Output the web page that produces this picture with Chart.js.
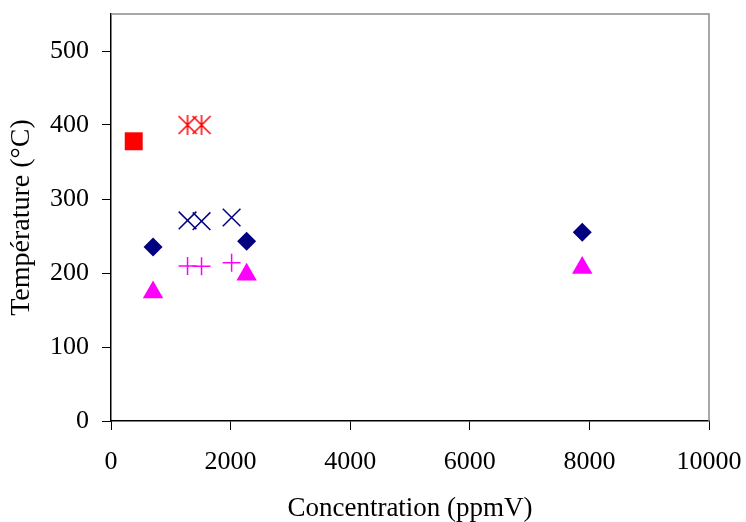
<!DOCTYPE html>
<html>
<head>
<meta charset="utf-8">
<script src="https://cdn.jsdelivr.net/npm/chart.js@4/dist/chart.umd.min.js"></script>
<style>
  body { margin: 0; background: #fff; }
</style>
</head>
<body>
<canvas id="chart" width="746" height="522"></canvas>
<script>
// Data (x = ppmV, y = °C)
const diamondX = [703, 2268, 7880];
const diamondY = [235, 243, 255];
const triangleX = [703, 2268, 7880];
const triangleY = [174, 198, 207];
const squareX = [380];
const squareY = [378];
const starX = [1280, 1514];
const starY = [400, 400];
const crossX = [1280, 1514, 2017];
const crossY = [271, 270, 275];
const plusX = [1280, 1514, 2017];
const plusY = [209.5, 209, 214];

const xTicks = [0, 2000, 4000, 6000, 8000, 10000];
const yTicks = [0, 100, 200, 300, 400, 500];

const pts = (xs, ys) => xs.map((x, i) => ({ x: x, y: ys[i] }));

// Excel style "star" marker: an X with a vertical bar
function starMarker(color) {
  const c = document.createElement("canvas");
  c.width = 20; c.height = 20;
  const g = c.getContext("2d");
  g.strokeStyle = color;
  g.lineWidth = 1.5;
  g.beginPath();
  g.moveTo(1, 1); g.lineTo(19, 19);
  g.moveTo(19, 1); g.lineTo(1, 19);
  g.moveTo(10, 0); g.lineTo(10, 20);
  g.stroke();
  return c;
}

// gray top/right frame of the plot area
const frame = {
  id: "frame",
  afterDraw(chart) {
    const { ctx, chartArea: a } = chart;
    ctx.save();
    ctx.strokeStyle = "#8c8c8c";
    ctx.lineWidth = 1.5;
    ctx.beginPath();
    ctx.moveTo(a.left, a.top);
    ctx.lineTo(a.right, a.top);
    ctx.lineTo(a.right, a.bottom);
    ctx.stroke();
    ctx.restore();
  }
};

const noPad = (s) => { s.paddingTop = 0; s.paddingBottom = 0; s.paddingLeft = 0; s.paddingRight = 0; };

const font = "'Liberation Serif', 'Times New Roman', serif";

new Chart(document.querySelector("#chart").getContext("2d"), {
  type: "scatter",
  data: {
    datasets: [
      {
        data: pts(diamondX, diamondY),
        pointStyle: "rectRot",
        pointRadius: 9.5,
        backgroundColor: "#000080",
        borderColor: "#000080",
        borderWidth: 0
      },
      {
        data: pts(triangleX, triangleY),
        pointStyle: "triangle",
        pointRadius: 11.8,
        backgroundColor: "#ff00ff",
        borderColor: "#ff00ff",
        borderWidth: 0
      },
      {
        data: pts(squareX, squareY),
        pointStyle: "rect",
        pointRadius: 12.7,
        backgroundColor: "#ff0000",
        borderColor: "#ff0000",
        borderWidth: 0
      },
      {
        data: pts(starX, starY),
        pointStyle: starMarker("#ff0000"),
        pointRadius: 10
      },
      {
        data: pts(crossX, crossY),
        pointStyle: "crossRot",
        pointRadius: 12.5,
        borderColor: "#000080",
        borderWidth: 1.5
      },
      {
        data: pts(plusX, plusY),
        pointStyle: "cross",
        pointRadius: 9,
        borderColor: "#ff00ff",
        borderWidth: 1.5
      }
    ]
  },
  options: {
    responsive: false,
    animation: false,
    layout: { padding: { top: 14, right: 37, left: 0, bottom: 0 } },
    plugins: {
      legend: { display: false },
      tooltip: { enabled: false }
    },
    scales: {
      x: {
        type: "linear",
        min: xTicks[0],
        max: xTicks[xTicks.length - 1],
        afterFit: (s) => { s.height = 101; noPad(s); },
        afterBuildTicks: (s) => { s.ticks = xTicks.map(v => ({ value: v })); },
        border: { color: "#000", width: 1.5 },
        grid: { drawOnChartArea: false, drawTicks: true, tickLength: 9, color: "#000", lineWidth: 1 },
        ticks: {
          font: { family: font, size: 26 }, color: "#000", padding: 17, maxRotation: 0,
          callback: (v) => String(v)
        },
        title: {
          display: true,
          text: "Concentration (ppmV)",
          font: { family: font, size: 27 },
          color: "#000",
          padding: { top: 0, bottom: -3 }
        }
      },
      y: {
        type: "linear",
        min: 0,
        max: 550,
        afterFit: (s) => { s.width = 111; noPad(s); },
        afterBuildTicks: (s) => { s.ticks = yTicks.map(v => ({ value: v })); },
        border: { color: "#000", width: 1.5 },
        grid: { drawOnChartArea: false, drawTicks: true, tickLength: 9, color: "#000", lineWidth: 1 },
        ticks: {
          font: { family: font, size: 26 }, color: "#000", padding: 13,
          callback: (v) => String(v)
        },
        title: {
          display: true,
          text: "Température (°C)",
          font: { family: font, size: 28 },
          color: "#000",
          padding: { top: 5, bottom: 0 }
        }
      }
    }
  },
  plugins: [frame]
});
</script>
</body>
</html>
